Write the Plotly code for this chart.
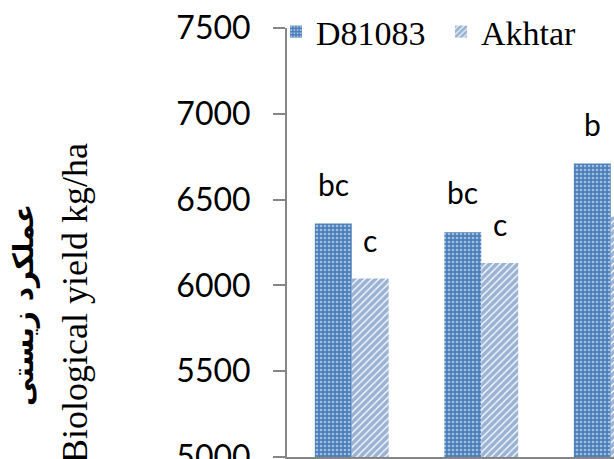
import plotly.graph_objects as go

categories = ["T1", "T2", "T3"]
d81083_values = [6360, 6310, 6710]
akhtar_values = [6040, 6130, 6400]
d81083_labels = ["bc", "bc", "b"]
akhtar_labels = ["c", "c", ""]
y_ticks = [5000, 5500, 6000, 6500, 7000, 7500]

BLUE = "#4A7EBB"
STRIPE = "#3568AA"
GREY = "#868686"
BARGAP = 0.43

fig = go.Figure()
fig.add_trace(go.Bar(
    name="D81083", x=categories, y=d81083_values, legend="legend",
    marker=dict(color=BLUE, line=dict(width=0),
                pattern=dict(shape=".", fgcolor="white", bgcolor=BLUE, size=4, solidity=0.35)),
))
fig.add_trace(go.Bar(
    name="Akhtar", x=categories, y=akhtar_values, legend="legend2",
    marker=dict(color=BLUE, line=dict(width=0),
                pattern=dict(shape="/", fgcolor=STRIPE, bgcolor="white", size=5, solidity=0.75)),
))

half = (1 - BARGAP) / 4
annotations = []
for i, (lab, v) in enumerate(zip(d81083_labels, d81083_values)):
    if lab:
        annotations.append(dict(x=i - half, y=v, xref="x", yref="y", text=lab, showarrow=False,
                                yanchor="bottom", yshift=20,
                                font=dict(family="Lato", size=30, color="black")))
for i, (lab, v) in enumerate(zip(akhtar_labels, akhtar_values)):
    if lab:
        annotations.append(dict(x=i + half, y=v, xref="x", yref="y", text=lab, showarrow=False,
                                yanchor="bottom", yshift=19,
                                font=dict(family="Lato", size=30, color="black")))

# y-axis titles (two lines)
annotations.append(dict(xref="paper", yref="paper", x=(75 - 287) / 327, y=(457 - 303) / 429,
                        text="Biological yield kg/ha", textangle=-90, showarrow=False,
                        xanchor="center", yanchor="middle",
                        font=dict(family="Liberation Serif", size=36, color="black")))
annotations.append(dict(xref="paper", yref="paper", x=(23 - 287) / 327, y=(457 - 305) / 429,
                        text="<b>عملکرد زیستی</b>", textangle=-90, showarrow=False,
                        xanchor="center", yanchor="middle",
                        font=dict(family="DejaVu Sans", size=28, color="black")))

legend_common = dict(orientation="h", xanchor="left", yref="container", y=(459 - 32) / 459,
                     yanchor="middle", xref="container",
                     font=dict(family="Liberation Serif", size=34, color="black"),
                     bgcolor="rgba(0,0,0,0)", itemwidth=30)

fig.update_layout(
    width=614, height=459,
    margin=dict(l=287, r=0, t=28, b=2, autoexpand=False),
    paper_bgcolor="white", plot_bgcolor="white",
    barmode="group", bargap=BARGAP, bargroupgap=0,
    showlegend=True,
    legend=dict(x=276 / 614, **legend_common),
    legend2=dict(x=441 / 614, **legend_common),
    annotations=annotations,
    xaxis=dict(range=[-0.5, 2.025], showgrid=False, showline=True, linecolor=GREY, linewidth=2,
               ticks="outside", tickson="boundaries", tickcolor=GREY, tickwidth=2, ticklen=8,
               showticklabels=False, zeroline=False),
    yaxis=dict(range=[5000, 7500], tickvals=y_ticks, showgrid=False, showline=True,
               linecolor=GREY, linewidth=2, ticks="outside", tickcolor=GREY, tickwidth=2,
               ticklen=12, ticklabelstandoff=16, zeroline=False, ticklabeloverflow="allow",
               tickfont=dict(family="Lato", size=32, color="black")),
)

fig.write_html("out.html", config={"displayModeBar": False},
               post_script="document.body.style.margin='0';")
